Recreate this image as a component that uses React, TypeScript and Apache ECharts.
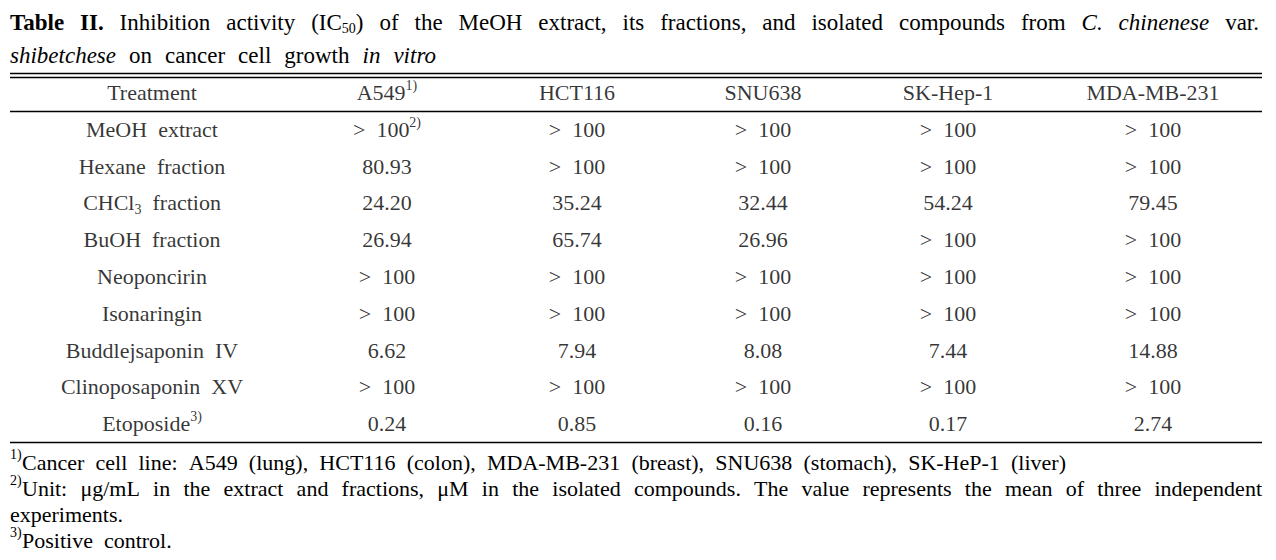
import React, { useEffect, useRef } from 'react';
import * as echarts from 'echarts';

const FONT = '"Liberation Serif", "Times New Roman", Times, serif';

// ---- data ----
const columns = ['Treatment', 'A549', 'HCT116', 'SNU638', 'SK-Hep-1', 'MDA-MB-231'];
const columnNotes = ['', '1)', '', '', '', ''];
const treatments = [
  'MeOH  extract',
  'Hexane  fraction',
  'CHCl3  fraction',
  'BuOH  fraction',
  'Neoponcirin',
  'Isonaringin',
  'Buddlejsaponin  IV',
  'Clinoposaponin  XV',
  'Etoposide',
];
const treatmentNotes = ['', '', '', '', '', '', '', '', '3)'];
const a549 = ['> 100', '80.93', '24.20', '26.94', '> 100', '> 100', '6.62', '> 100', '0.24'];
const a549Notes = ['2)', '', '', '', '', '', '', '', ''];
const hct116 = ['> 100', '> 100', '35.24', '65.74', '> 100', '> 100', '7.94', '> 100', '0.85'];
const snu638 = ['> 100', '> 100', '32.44', '26.96', '> 100', '> 100', '8.08', '> 100', '0.16'];
const skhep1 = ['> 100', '> 100', '54.24', '> 100', '> 100', '> 100', '7.44', '> 100', '0.17'];
const mdamb231 = ['> 100', '> 100', '79.45', '> 100', '> 100', '> 100', '14.88', '> 100', '2.74'];

// ---- layout (not data) ----
const W = 1276;
const H = 560;
const colX = [152, 387, 577, 763, 948, 1153];
const TABLE_TOP = 74;
const TABLE_BOTTOM = 442;
const LINE_X0 = 10;
const LINE_X1 = 1262;
const FS = 22;
const TITLE_FS = 23;

type Seg = { t: string; b?: boolean; i?: boolean; sub?: boolean; sup?: boolean };
type Word = Seg[];

const w = (t: string, o: Partial<Seg> = {}): Word => [{ t, ...o }];

const titleLine1: Word[] = [
  w('Table', { b: true }), w('II.', { b: true }), w('Inhibition'), w('activity'),
  [{ t: '(IC' }, { t: '50', sub: true }, { t: ')' }],
  w('of'), w('the'), w('MeOH'), w('extract,'), w('its'), w('fractions,'), w('and'),
  w('isolated'), w('compounds'), w('from'), w('C.', { i: true }), w('chinenese', { i: true }), w('var.'),
];
const titleLine2: Word[] = [
  w('shibetchese', { i: true }), w('on'), w('cancer'), w('cell'), w('growth'), w('in', { i: true }), w('vitro', { i: true }),
];
const foot1 = 'Cancer cell line: A549 (lung), HCT116 (colon), MDA-MB-231 (breast), SNU638 (stomach), SK-HeP-1 (liver)';
const foot2 = 'Unit: μg/mL in the extract and fractions, μM in the isolated compounds. The value represents the mean of three independent';
const foot2b = 'experiments.';
const foot3 = 'Positive  control.';

let ctx: CanvasRenderingContext2D | null = null;
function measure(seg: Seg, fs: number): number {
  if (!ctx) ctx = document.createElement('canvas').getContext('2d');
  const size = seg.sub || seg.sup ? Math.round(fs * 0.62) : fs;
  ctx!.font = `${seg.i ? 'italic ' : ''}${seg.b ? 'bold ' : ''}${size}px ${FONT}`;
  return ctx!.measureText(seg.t).width;
}

function segEl(seg: Seg, x: number, y: number, fs: number) {
  const small = seg.sub || seg.sup;
  const size = small ? Math.round(fs * 0.62) : fs;
  const dy = seg.sub ? fs * 0.3 : seg.sup ? -fs * 0.32 : 0;
  return {
    type: 'text',
    x,
    y: y + dy,
    silent: true,
    style: {
      text: seg.t,
      fontFamily: FONT,
      fontSize: size,
      fontWeight: seg.b ? 'bold' : 'normal',
      fontStyle: seg.i ? 'italic' : 'normal',
      fill: '#000',
      align: 'left',
      verticalAlign: 'middle',
    },
  };
}

function lineEls(words: Word[], x0: number, x1: number | null, y: number, fs: number, gapMin = 6) {
  const widths = words.map((wd) => wd.reduce((s, sg) => s + measure(sg, fs), 0));
  const total = widths.reduce((a, b) => a + b, 0);
  const gap = x1 !== null && words.length > 1 ? (x1 - x0 - total) / (words.length - 1) : gapMin;
  const els: any[] = [];
  let x = x0;
  words.forEach((wd, k) => {
    let sx = x;
    wd.forEach((sg) => {
      els.push(segEl(sg, sx, y, fs));
      sx += measure(sg, fs);
    });
    x += widths[k] + gap;
  });
  return els;
}

const plainWords = (s: string): Word[] => s.split(' ').filter((x) => x.length).map((t) => w(t));

function cellText(text: string, note: string): string {
  const t = text.replace('CHCl3', 'CHCl{sub|3}').replace('> ', '>\u2002');
  return note ? `${t}{sup|${note}}` : t;
}

export default function App() {
  const ref = useRef<HTMLDivElement>(null);
  useEffect(() => {
    if (!ref.current) return;
    document.body.style.margin = '0';
    const chart = echarts.init(ref.current, undefined, { renderer: 'svg' });
    const rowKeys = ['header', ...treatments];
    const valueCols = [a549, hct116, snu638, skhep1, mdamb231];
    const colTexts: string[][] = [
      [cellText(columns[0], columnNotes[0]), ...treatments.map((t, r) => cellText(t, treatmentNotes[r]))],
      ...valueCols.map((vals, c) => [
        cellText(columns[c + 1], columnNotes[c + 1]),
        ...vals.map((v, r) => cellText(v, c === 0 ? a549Notes[r] : '')),
      ]),
    ];

    const series = colTexts.map((texts, c) => ({
      type: 'scatter',
      name: columns[c],
      symbolSize: 1,
      itemStyle: { color: 'rgba(0,0,0,0)' },
      silent: true,
      data: texts.map((t, r) => ({ value: [colX[c], r], name: t })),
      label: {
        show: true,
        position: 'inside',
        formatter: (p: any) => p.name,
        fontFamily: FONT,
        fontSize: FS,
        color: '#000',
        lineHeight: 28,
        rich: {
          sup: { fontFamily: FONT, fontSize: 14, lineHeight: 14, verticalAlign: 'top', color: '#000' },
          sub: { fontFamily: FONT, fontSize: 14, lineHeight: 14, verticalAlign: 'bottom', color: '#000' },
        },
      },
    }));

    const hline = (y: number) => ({
      type: 'line',
      silent: true,
      shape: { x1: LINE_X0, y1: y, x2: LINE_X1, y2: y },
      style: { stroke: '#000', lineWidth: 1.5 },
    });

    const FOOT_X = 22;
    const graphics: any[] = [
      ...lineEls(titleLine1, 10, 1259, 22, TITLE_FS),
      ...lineEls(titleLine2, 10, 436, 55, TITLE_FS),
      hline(73.5),
      hline(77.5),
      hline(111.5),
      hline(442.5),
      segEl({ t: '1)', sup: true }, 10, 462, FS),
      ...lineEls(plainWords(foot1), FOOT_X, 1066, 462, FS),
      segEl({ t: '2)', sup: true }, 10, 488, FS),
      ...lineEls(plainWords(foot2), FOOT_X, 1262, 488, FS),
      segEl({ t: foot2b }, 10, 514, FS),
      segEl({ t: '3)', sup: true }, 10, 540, FS),
      segEl({ t: foot3 }, FOOT_X, 540, FS),
    ];

    chart.setOption({
      animation: false,
      backgroundColor: '#fff',
      grid: { left: 0, right: 0, top: TABLE_TOP, bottom: H - TABLE_BOTTOM, containLabel: false },
      xAxis: { type: 'value', min: 0, max: W, show: false },
      yAxis: { type: 'category', data: rowKeys, inverse: true, show: false },
      tooltip: { show: false },
      series,
      graphic: graphics,
    });
    return () => chart.dispose();
  }, []);
  return (
    <div
      ref={ref}
      style={{ position: 'fixed', left: 0, top: 0, width: W, height: H, background: '#fff' }}
    />
  );
}
